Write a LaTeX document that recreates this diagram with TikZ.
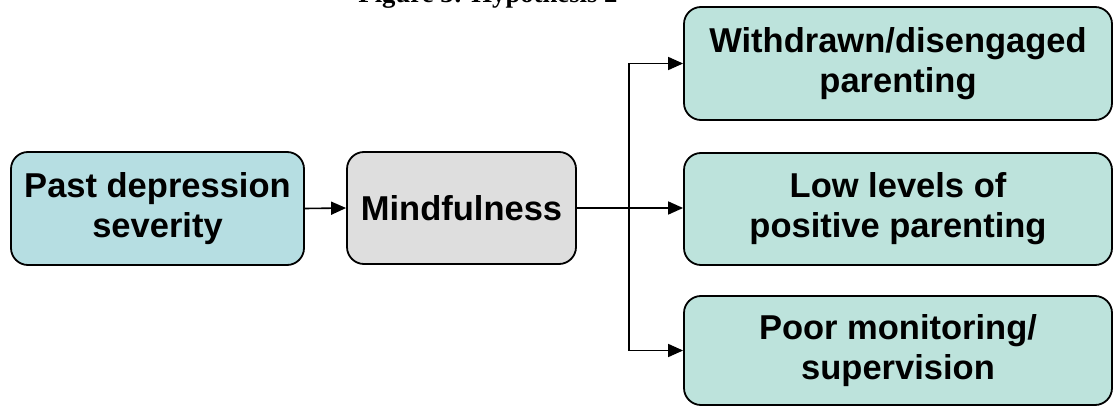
\documentclass[tikz,border=0pt]{standalone}
\usepackage{fontspec}
\setmainfont{Liberation Serif}
\setsansfont{Liberation Sans}
\usetikzlibrary{arrows.meta}
\definecolor{bluefill}{HTML}{B6DEE2}
\definecolor{mintfill}{HTML}{BDE3DC}
\definecolor{greyfill}{HTML}{DEDEDE}
\begin{document}
\begin{tikzpicture}[x=1pt,y=-1pt,
  box/.style={draw=black, line width=1.8pt, rounded corners=17pt, align=center,
    font=\sffamily\bfseries\fontsize{34.5}{40}\selectfont, inner sep=0pt},
  link/.style={line width=1.6pt},
  conn/.style={link, -{Triangle[length=15pt,width=13pt]}}]
\clip (0,0) rectangle (1113,406);
\node[anchor=base, font=\rmfamily\bfseries\fontsize{26.7}{30}\selectfont] (title) at (488,3) {Figure 3: Hypothesis 2};
\node[box, fill=bluefill, minimum width=293pt, minimum height=113pt] (past) at (157.5,208.5) {Past depression\\severity};
\node[box, fill=greyfill, minimum width=229pt, minimum height=112pt] (mind) at (461.5,208) {Mindfulness};
\node[box, fill=mintfill, minimum width=428pt, minimum height=113pt] (top) at (898,63.5) {Withdrawn/disengaged\\parenting};
\node[box, fill=mintfill, minimum width=428pt, minimum height=112pt] (mid) at (898,209) {Low levels of\\positive parenting};
\node[box, fill=mintfill, minimum width=428pt, minimum height=109pt] (bot) at (898,350.5) {Poor monitoring/\\supervision};
\coordinate (j) at (629,208);
\draw[conn] (past.east) -- (mind.west);
\draw[link, line width=2.4pt] (mind.east) -- (j);
\draw[conn] (j) -- (j -| mid.west);
\draw[conn] (j) |- (top.west);
\draw[conn] (j) |- (bot.west);
\end{tikzpicture}
\end{document}
